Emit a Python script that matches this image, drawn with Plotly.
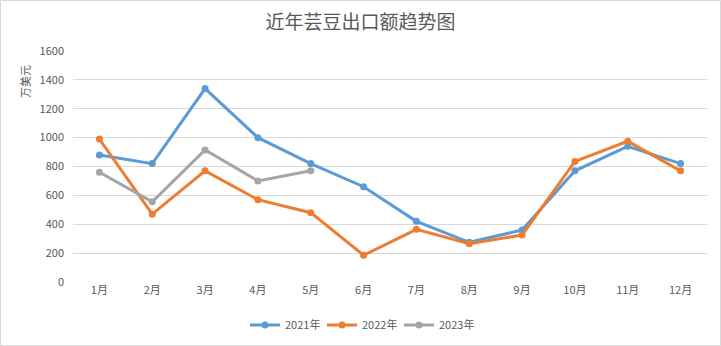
import plotly.graph_objects as go

months = ["1月", "2月", "3月", "4月", "5月", "6月", "7月", "8月", "9月", "10月", "11月", "12月"]
export_2021 = [880, 820, 1340, 1000, 820, 660, 420, 275, 360, 770, 940, 820]
export_2022 = [990, 470, 770, 570, 480, 185, 365, 265, 325, 835, 975, 770]
export_2023 = [760, 555, 915, 700, 770]
y_ticks = [0, 200, 400, 600, 800, 1000, 1200, 1400, 1600]

W, H = 721, 346
L, R, T, B = 73, 14, 51, 64
pw, ph = W - L - R, H - T - B

font_family = "Noto Sans CJK SC, Liberation Sans, sans-serif"
text_color = "#595959"

fig = go.Figure()
series = [
    ("2021年", export_2021, "#5B9BD5"),
    ("2022年", export_2022, "#ED7D31"),
    ("2023年", export_2023, "#A5A5A5"),
]
for name, vals, color in series:
    fig.add_trace(go.Scatter(
        x=months[:len(vals)], y=vals, name=name, mode="lines+markers",
        line=dict(color=color, width=3),
        marker=dict(color=color, size=7),
    ))

fig.update_layout(
    width=W, height=H,
    margin=dict(l=L, r=R, t=T, b=B, autoexpand=False),
    paper_bgcolor="white", plot_bgcolor="white",
    font=dict(family=font_family, color=text_color, size=11),
    title=dict(text="近年芸豆出口额趋势图", x=0.5, xanchor="center",
               y=1 - 22 / H, yanchor="middle",
               font=dict(size=19, color=text_color, family=font_family)),
    xaxis=dict(type="category", categoryorder="array", categoryarray=months,
               range=[-0.5, 11.5], showgrid=False, zeroline=False,
               showline=False, ticks="", tickfont=dict(size=11, color=text_color)),
    yaxis=dict(range=[0, 1600], tickvals=y_ticks, showgrid=True,
               gridcolor="#D9D9D9", gridwidth=1, zeroline=False,
               showline=False, ticks="", ticklabelstandoff=8,
               tickfont=dict(size=11, color=text_color)),
    legend=dict(orientation="h", x=(W / 2 - L) / pw, xanchor="center",
                y=-(325 - (T + ph)) / ph, yanchor="middle",
                font=dict(size=11, color=text_color),
                entrywidth=32, entrywidthmode="pixels"),
    showlegend=True,
)

# y-axis title near the top of the axis
fig.add_annotation(
    text="万美元", textangle=-90, xref="paper", yref="paper",
    x=(25 - L) / pw, y=(T + ph - 82) / ph, showarrow=False,
    xanchor="center", yanchor="middle",
    font=dict(size=11, color=text_color, family=font_family),
)

# chart area border
fig.add_shape(
    type="rect", xref="paper", yref="paper",
    x0=(0.5 - L) / pw, x1=(W - 0.5 - L) / pw,
    y0=-(H - 0.5 - T - ph) / ph, y1=(T + ph - 0.5) / ph,
    line=dict(color="#D9D9D9", width=1), fillcolor="rgba(0,0,0,0)",
)

fig.write_html("out.html")
